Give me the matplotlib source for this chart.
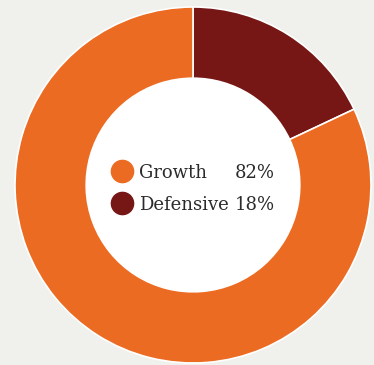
import matplotlib.pyplot as plt

labels = ["Defensive", "Growth"]
values = [18, 82]
colors = ["#771715", "#ec6b22"]
bg = "#f0f0ec"

fig = plt.figure(figsize=(3.74, 3.65), dpi=100, facecolor=bg)
ax = fig.add_axes([0, 0, 1, 1])
ax.set_facecolor(bg)

R = 178.0  # outer radius in px
ax.pie(values, colors=colors, startangle=90, counterclock=False, radius=1.0,
       wedgeprops=dict(width=0.4, edgecolor="white", linewidth=1.2))
ax.add_patch(plt.Circle((0, 0), 0.6, color="white", zorder=0))

cx, cy = 193, 185
ax.set_xlim(-cx / R, (374 - cx) / R)
ax.set_ylim(-(365 - cy) / R, cy / R)
ax.set_aspect("auto")
ax.axis("off")

# centre legend: (name, value, colour, dot y, baseline y) in px
rows = [("Growth", values[1], colors[1], 171, 178), ("Defensive", values[0], colors[0], 203, 210)]
for name, val, col, py, by in rows:
    ax.plot((122 - cx) / R, (cy - py) / R, "o", ms=16, color=col, zorder=5)
    ax.text((139 - cx) / R, (cy - by) / R, name, family="DejaVu Serif", fontsize=13,
            va="baseline", ha="left", color="#2b2b2b", zorder=5)
    ax.text((275 - cx) / R, (cy - by) / R, f"{val}%", family="DejaVu Serif", fontsize=13,
            va="baseline", ha="right", color="#2b2b2b", zorder=5)

fig.savefig("out.png", dpi=100, facecolor=bg)
